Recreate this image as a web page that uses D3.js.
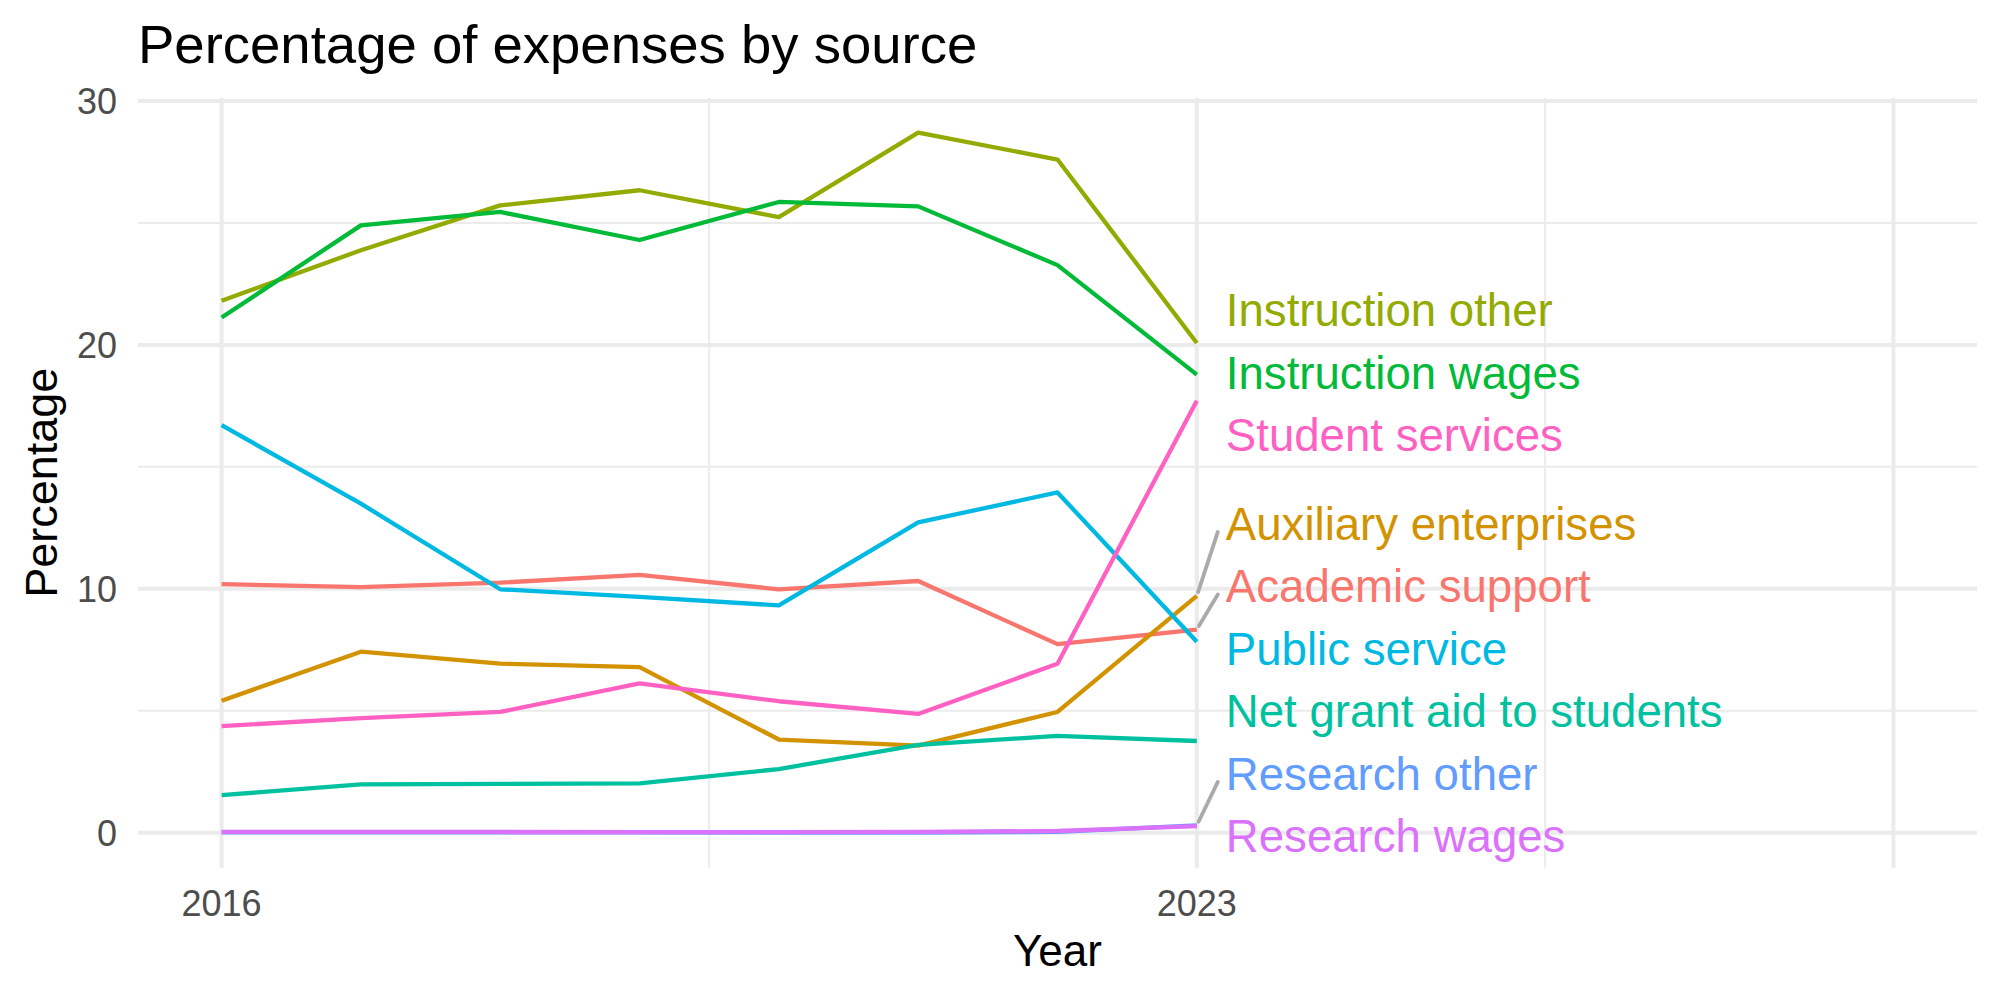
<!DOCTYPE html>
<html>
<head>
<meta charset="utf-8">
<script src="https://cdn.jsdelivr.net/npm/d3@7"></script>
<style>
  body { margin: 0; background: #ffffff; }
  svg { display: block; }
</style>
</head>
<body>
<svg id="chart"></svg>
<script>
const years = [2016, 2017, 2018, 2019, 2020, 2021, 2022, 2023];

const academicSupport      = [10.19, 10.07, 10.25, 10.57, 9.98, 10.32, 7.73, 8.33];
const auxiliaryEnterprises = [5.41, 7.42, 6.93, 6.79, 3.82, 3.57, 4.95, 9.71];
const instructionOther     = [21.81, 23.88, 25.72, 26.34, 25.24, 28.70, 27.60, 20.08];
const instructionWages     = [21.12, 24.90, 25.45, 24.30, 25.86, 25.68, 23.27, 18.78];
const netGrantAid          = [1.54, 1.98, 2.00, 2.02, 2.61, 3.60, 3.97, 3.76];
const publicService        = [16.71, 13.49, 9.98, 9.67, 9.32, 12.72, 13.95, 7.83];
const researchOther        = [0.01, 0.01, 0.01, 0.01, 0.00, 0.00, 0.03, 0.30];
const researchWages        = [0.03, 0.03, 0.03, 0.02, 0.02, 0.03, 0.07, 0.27];
const studentServices      = [4.37, 4.70, 4.95, 6.12, 5.39, 4.87, 6.93, 17.71];

const labels = ["Academic support", "Auxiliary enterprises", "Instruction other", "Instruction wages",
                "Net grant aid to students", "Public service", "Research other", "Research wages", "Student services"];
const values = [academicSupport, auxiliaryEnterprises, instructionOther, instructionWages,
                netGrantAid, publicService, researchOther, researchWages, studentServices];
const colours = ["#F8766D", "#D39200", "#93AA00", "#00BA38", "#00C19F", "#00B9E3", "#619CFF", "#DB72FB", "#FF61C3"];

const xLimits = [2016, 2028];
const xMajor = [2016, 2023, 2028];
const xMajorLabels = ["2016", "2023", ""];
const xMinor = [2019.5, 2025.5];
const yMajor = [0, 10, 20, 30];
const yMinor = [5, 15, 25];

const width = 2000, height = 1000;
const margin = { top: 97.7, right: 23, bottom: 132.3, left: 138 };
const chartWidth = width - margin.left - margin.right;
const chartHeight = height - margin.top - margin.bottom;
const fontFamily = "'Liberation Sans', Arial, Helvetica, sans-serif";

const svg = d3.select("#chart")
    .attr("width", width)
    .attr("height", height)
    .style("font-family", fontFamily);

// ggplot style 5% expansion
const xPad = (xLimits[1] - xLimits[0]) * 0.05;
const xScale = d3.scaleLinear()
    .domain([xLimits[0] - xPad, xLimits[1] + xPad])
    .range([0, chartWidth]);

const yMax = d3.max(values, v => d3.max(v));
const yMin = Math.min(0, d3.min(values, v => d3.min(v)));
const yPad = (yMax - yMin) * 0.05;
const yScale = d3.scaleLinear()
    .domain([yMin - yPad, yMax + yPad])
    .range([chartHeight, 0]);

const chart = svg.append("g")
    .attr("transform", "translate(" + margin.left + "," + margin.top + ")");

// grid
const grid = chart.append("g").attr("class", "grid");
grid.selectAll(".ymin").data(yMinor).join("line")
    .attr("x1", 0).attr("x2", chartWidth)
    .attr("y1", d => yScale(d)).attr("y2", d => yScale(d))
    .style("stroke", "#EBEBEB").style("stroke-width", 2);
grid.selectAll(".xmin").data(xMinor).join("line")
    .attr("x1", d => xScale(d)).attr("x2", d => xScale(d))
    .attr("y1", 0).attr("y2", chartHeight)
    .style("stroke", "#EBEBEB").style("stroke-width", 2);
grid.selectAll(".ymaj").data(yMajor).join("line")
    .attr("x1", 0).attr("x2", chartWidth)
    .attr("y1", d => yScale(d)).attr("y2", d => yScale(d))
    .style("stroke", "#EBEBEB").style("stroke-width", 4);
grid.selectAll(".xmaj").data(xMajor).join("line")
    .attr("x1", d => xScale(d)).attr("x2", d => xScale(d))
    .attr("y1", 0).attr("y2", chartHeight)
    .style("stroke", "#EBEBEB").style("stroke-width", 4);

// lines
const lineGen = d3.line()
    .x((d, i) => xScale(years[i]))
    .y(d => yScale(d));

for (let i = 0; i < values.length; i++) {
    chart.append("path")
        .datum(values[i])
        .attr("d", lineGen)
        .style("fill", "none")
        .style("stroke", colours[i])
        .style("stroke-width", 4.3)
        .style("stroke-linejoin", "round");
}

// repelled end labels (simple cluster dodge)
const gap = 62.5;
const lo = gap / 2, hi = chartHeight - gap / 2;
let items = labels.map((l, i) => ({ i: i, target: yScale(values[i][years.length - 1]) }))
    .sort((a, b) => a.target - b.target);
let clusters = items.map(d => ({ members: [d] }));
function place(c) {
    const n = c.members.length;
    let centre = d3.mean(c.members, d => d.target);
    let start = centre - (n - 1) * gap / 2;
    start = Math.max(lo, Math.min(hi - (n - 1) * gap, start));
    c.start = start;
    c.end = start + (n - 1) * gap;
}
clusters.forEach(place);
let merged = true;
while (merged) {
    merged = false;
    for (let k = 0; k < clusters.length - 1; k++) {
        if (clusters[k + 1].start - clusters[k].end < gap) {
            clusters[k].members = clusters[k].members.concat(clusters[k + 1].members);
            clusters.splice(k + 1, 1);
            place(clusters[k]);
            merged = true;
            break;
        }
    }
}
clusters.forEach(c => c.members.forEach((d, j) => d.y = c.start + j * gap));

const labelX = xScale(years[years.length - 1]) + 29;
const labelSize = 45.6;
items.forEach(d => {
    const px = xScale(years[years.length - 1]);
    if (Math.abs(d.y - d.target) > 40) {
        const ex = labelX - 8, ey = d.y + 8;
        const len = Math.hypot(ex - px, ey - d.target);
        const sx = px + (ex - px) / len * 4, sy = d.target + (ey - d.target) / len * 4;
        chart.append("line")
            .attr("x1", sx).attr("y1", sy)
            .attr("x2", ex).attr("y2", ey)
            .style("stroke", "#AAAAAA")
            .style("stroke-width", 3.8)
            .style("stroke-linecap", "round");
    }
    chart.append("text")
        .attr("x", labelX)
        .attr("y", d.y + 16)
        .style("font-size", labelSize + "px")
        .style("fill", colours[d.i])
        .text(labels[d.i]);
});

// axes text
chart.selectAll(".ytick").data(yMajor).join("text")
    .attr("x", -21)
    .attr("y", d => yScale(d))
    .attr("dy", "0.36em")
    .attr("text-anchor", "end")
    .style("font-size", "36px")
    .style("fill", "#4D4D4D")
    .text(d => d);

chart.selectAll(".xtick").data(xMajor).join("text")
    .attr("x", d => xScale(d))
    .attr("y", chartHeight + 48.5)
    .attr("text-anchor", "middle")
    .style("font-size", "36px")
    .style("fill", "#4D4D4D")
    .text((d, i) => xMajorLabels[i]);

chart.append("text")
    .attr("x", chartWidth / 2)
    .attr("y", chartHeight + 98)
    .attr("text-anchor", "middle")
    .style("font-size", "44px")
    .style("fill", "black")
    .text("Year");

svg.append("text")
    .attr("transform", "translate(57," + (margin.top + chartHeight / 2) + ") rotate(-90)")
    .attr("text-anchor", "middle")
    .style("font-size", "45px")
    .style("fill", "black")
    .text("Percentage");

svg.append("text")
    .attr("x", 138)
    .attr("y", 63)
    .style("font-size", "54.5px")
    .style("fill", "black")
    .text("Percentage of expenses by source");
</script>
</body>
</html>
